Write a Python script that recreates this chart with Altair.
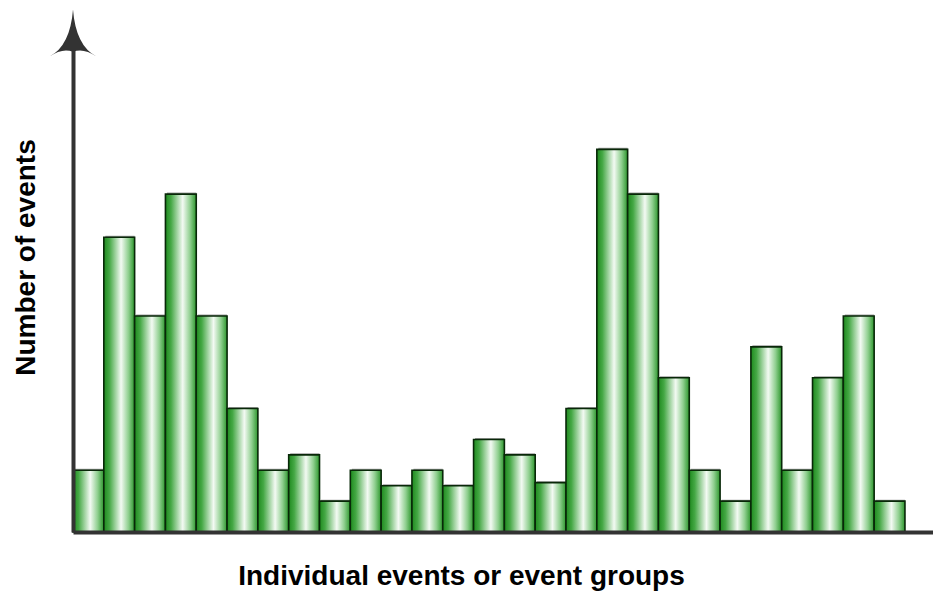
import altair as alt
import pandas as pd

# Bar heights (in arbitrary "event" units)
heights = [4.0, 19.1, 14.0, 21.9, 14.0, 8.0, 4.0, 5.0, 2.0, 4.0, 3.0, 4.0, 3.0, 6.0,
           5.0, 3.2, 8.0, 24.8, 21.9, 10.0, 4.0, 2.0, 12.0, 4.0, 10.0, 14.0, 2.0]
starts = list(range(len(heights)))
ends = [s + 1 for s in starts]

x_title = "Individual events or event groups"
y_title = "Number of events"

df = pd.DataFrame({"start": starts, "end": ends, "h": heights})

W, H = 860, 482
x_scale = alt.Scale(domain=[0, 27.91], nice=False, zero=False)
y_scale = alt.Scale(domain=[0, 31.24], nice=False)

grad = alt.Gradient(
    gradient="linear",
    x1=0, x2=1, y1=0, y2=0,
    stops=[
        alt.GradientStop(offset=0.0, color="#1e8a1e"),
        alt.GradientStop(offset=0.18, color="#45a845"),
        alt.GradientStop(offset=0.56, color="#f3faf3"),
        alt.GradientStop(offset=0.8, color="#8fcf8f"),
        alt.GradientStop(offset=1.0, color="#2c962c"),
    ],
)

FS = 28
xaxis = alt.Axis(
    title=x_title, domain=True, domainColor="#333333", domainWidth=4,
    ticks=False, labels=False, grid=False, zindex=1,
    titleFont="Liberation Sans", titleFontSize=FS, titleFontWeight="bold",
    titleColor="#000000", titleX=388, titleY=52, titleBaseline="alphabetic",
    titleAlign="center", titleAnchor="start",
)
yaxis = alt.Axis(
    title=y_title, domain=True, domainColor="#333333", domainWidth=4,
    ticks=False, labels=False, grid=False, zindex=1,
    titleFont="Liberation Sans", titleFontSize=FS, titleFontWeight="bold",
    titleColor="#000000", titleX=-47, titleY=207, titleAngle=-90,
    titleBaseline="middle", titleAlign="center", titleAnchor="start",
)

shadow = alt.Chart(df).mark_bar(color="#a0a0a0", xOffset=1.5, yOffset=-1.5).encode(
    x=alt.X("start:Q", scale=x_scale, axis=xaxis),
    x2="end:Q",
    y=alt.Y("h:Q", scale=y_scale, axis=yaxis),
    y2=alt.datum(0),
)

bars = alt.Chart(df).mark_bar(fill=grad, stroke="#082808", strokeWidth=1.6).encode(
    x=alt.X("start:Q", scale=x_scale, axis=xaxis),
    x2="end:Q",
    y=alt.Y("h:Q", scale=y_scale, axis=yaxis),
    y2=alt.datum(0),
)

arrow_path = ("M0,-1 Q0.12,0.55 1,1 Q0.45,0.62 0,0.8 "
              "Q-0.45,0.62 -1,1 Q-0.12,0.55 0,-1 Z")
arrow = alt.Chart(pd.DataFrame({"a": [0]})).mark_point(
    shape=arrow_path, size=2209, filled=True, fill="#333333",
    stroke=None, opacity=1,
).encode(x=alt.value(0), y=alt.value(-17))

chart = alt.layer(shadow, bars, arrow).properties(
    width=W, height=H,
    padding={"left": 73, "top": 50, "right": 0, "bottom": 59},
    autosize=alt.AutoSizeParams(type="none"),
).configure_view(stroke=None)

chart.save("out.html", embed_options={"renderer": "svg", "actions": False})
